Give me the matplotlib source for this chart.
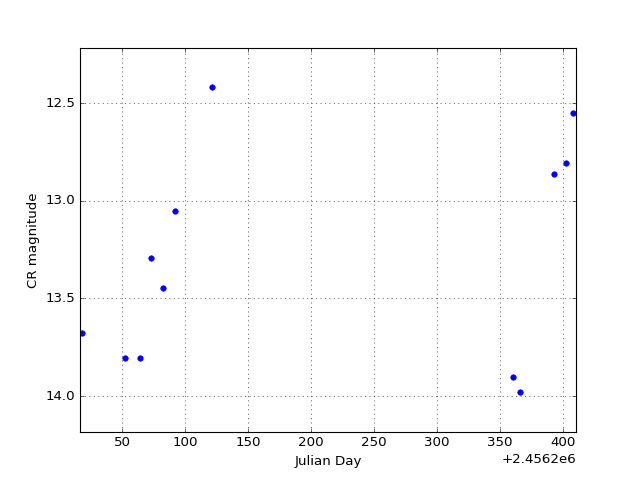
import matplotlib
matplotlib.use('Agg')
import matplotlib.pyplot as plt
from matplotlib.ticker import ScalarFormatter

plt.style.use('classic')

# Julian day and CR magnitude
jd = [2456218.3, 2456252.4, 2456264.3, 2456273.0, 2456282.5, 2456292.1,
      2456321.4, 2456560.3, 2456565.9, 2456592.9, 2456602.4, 2456607.9]
mag = [13.678, 13.806, 13.806, 13.294, 13.447, 13.053,
       12.418, 13.903, 13.980, 12.864, 12.807, 12.551]

fig, ax = plt.subplots(figsize=(8, 6), dpi=80)
ax.plot(jd, mag, 'o', color='blue', markeredgecolor='blue', markersize=5)

ax.set_xlim(2456216.7, 2456610.3)
ax.set_ylim(12.218, 14.184)
ax.invert_yaxis()

fmt = ScalarFormatter(useOffset=2456200)
ax.xaxis.set_major_formatter(fmt)

ax.grid(True)
ax.set_xlabel('Julian Day')
ax.set_ylabel('CR magnitude')

fig.savefig('out.png', dpi=80)
